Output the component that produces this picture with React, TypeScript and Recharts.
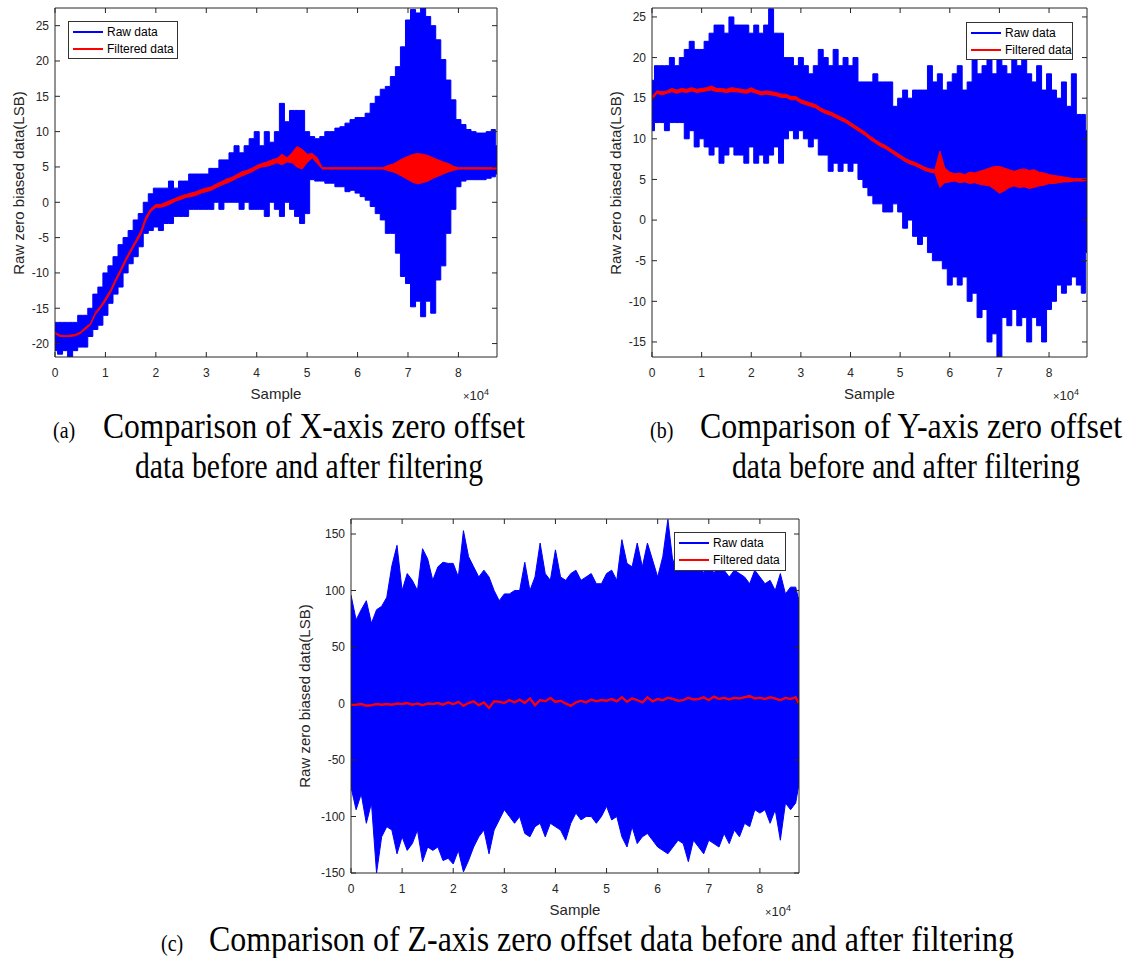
import React from 'react'
import { ComposedChart, Area, XAxis, YAxis } from 'recharts'

const SANS = '"Liberation Sans", Arial, Helvetica, sans-serif'
const SERIF = '"Liberation Serif", "Times New Roman", serif'
const AXIS = '#262626'
const BLUE = '#0000ff'
const RED = '#ff0000'

// sample positions: one reading every 1000 samples, last one at the end of the record
const SAMPLES = Array.from({ length: 88 }, (_, i) => i * 1000).concat([87650])
const X_TICKS = [0, 10000, 20000, 30000, 40000, 50000, 60000, 70000, 80000]

// (a) X axis
const xRawHigh = [
  -17, -17, -17, -17, -17, -16, -16, -15, -13, -12,
  -10, -9, -7.7, -6, -5, -4, -2.5, -1.6, 0, 1.2,
  2, 2, 2, 3, 2, 3, 3, 4, 4, 4,
  4, 4.8, 4.8, 6, 6, 7, 8, 7, 8, 9,
  10, 8, 10, 8.5, 10, 14, 11.4, 13, 13, 13,
  10, 9.3, 9, 9.3, 10, 10, 10.5, 10.7, 11.2, 11.7,
  12, 12, 12.6, 14, 15, 16, 16.4, 17.8, 19.2, 22,
  25.8, 27.3, 26.8, 27.5, 26.3, 25, 23, 20.2, 17.3, 14.5,
  11.7, 11, 10.3, 10, 9.8, 9.8, 10, 10.3, 8,
]
const xRawLow = [
  -21, -21.5, -21, -22, -21, -20.5, -20.5, -19, -18, -17.4,
  -16, -14.3, -13, -12, -10, -8.7, -7.7, -6.3, -4.4, -4,
  -3.5, -4, -3, -3, -2, -2, -2, -1, -1, -1,
  -1, -1, 0, -1, 0, 0, 0, -1, 0, -1,
  -1, -1, -2, 0, -1, -2, 0, -1, -2, -3,
  -1.6, 3.2, 3, 3, 2.7, 2.7, 2.2, 2.2, 1.5, 1.7,
  1.3, 0.8, 0.3, -0.6, -1.6, -2.5, -4.4, -4.4, -7.2, -10.5,
  -11.5, -14.8, -14, -16.2, -14, -15.7, -11, -9, -4.4, -1,
  2.2, 3, 3.2, 3.2, 3.2, 3.2, 3.4, 3.6, 4,
]
const xFiltLow = [
  -18.6, -19, -19, -19, -18.9, -18.6, -18, -17.4, -15.9, -15,
  -14, -12.8, -11.3, -9.9, -8.4, -7.1, -5.8, -4.6, -2.6, -1.3,
  -0.7, -0.7, -0.5, -0.2, 0.2, 0.4, 0.7, 0.8, 1, 1.3,
  1.5, 1.7, 2.1, 2.4, 2.7, 3, 3.4, 3.7, 4, 4.3,
  4.7, 5, 5.1, 5.3, 5.6, 5.3, 5.7, 5.6, 5, 4.7,
  5.6, 6.3, 5.5, 4.7, 4.7, 4.7, 4.7, 4.7, 4.7, 4.7,
  4.7, 4.7, 4.7, 4.7, 4.7, 4.7, 4.5, 4.3, 4, 3.6,
  3.2, 2.8, 2.6, 2.8, 3, 3.4, 3.7, 4, 4.3, 4.5,
  4.7, 4.7, 4.7, 4.7, 4.7, 4.7, 4.7, 4.7, 4.7,
]
const xFiltHigh = [
  -18.4, -18.8, -18.9, -18.8, -18.7, -18.4, -17.7, -17.2, -15.6, -14.7,
  -13.6, -12.4, -10.9, -9.5, -8, -6.7, -5.4, -4.1, -2.1, -0.9,
  -0.3, -0.3, 0, 0.3, 0.6, 0.9, 1.1, 1.3, 1.5, 1.8,
  2, 2.2, 2.6, 2.9, 3.3, 3.5, 3.9, 4.3, 4.5, 4.8,
  5.2, 5.5, 5.7, 6, 6.2, 6.8, 6.3, 7, 7.9, 7.5,
  6.8, 6.9, 6.3, 4.9, 4.9, 4.9, 4.9, 4.9, 4.9, 4.9,
  4.9, 4.9, 4.9, 4.9, 4.9, 4.9, 5.2, 5.4, 5.8, 6.2,
  6.5, 6.8, 6.9, 6.8, 6.6, 6.3, 6, 5.7, 5.5, 5.1,
  4.9, 4.9, 4.9, 4.9, 4.9, 4.9, 4.9, 4.9, 4.9,
]

// (b) Y axis
const yRawHigh = [
  17.2, 19, 19, 19, 20, 19, 20, 21, 22, 21,
  21, 22, 23, 24, 24, 23, 25, 24, 24, 24,
  23, 24, 23, 24, 26, 23, 23, 20, 20, 19,
  20, 19, 18, 19, 21, 20, 19, 21, 19, 20,
  19, 20, 17, 17, 17, 18, 17, 17, 17, 14,
  15, 16, 15, 16, 16, 16, 19, 17, 18, 16,
  17, 18, 19, 16, 17, 20, 18, 19, 20, 18,
  20, 19, 18, 20, 19, 20, 18, 17, 19, 16,
  18, 16, 15, 17, 14, 18, 13, 13, 11,
]
const yRawLow = [
  11, 12, 12, 11, 12, 12, 12, 10, 11, 9,
  10, 9, 8, 9, 7, 8, 9, 8, 8, 7,
  9, 7, 8, 7, 8, 9, 7, 10, 11, 10,
  11, 10, 9, 10, 8, 8, 6, 7, 6, 7,
  6, 7, 5, 4, 3, 2, 2, 1, 1, 2,
  1, -1, 0, -2, -3, -2, -4, -5, -5, -6,
  -8, -7, -8, -7, -10, -9, -12, -11, -15, -14,
  -17, -12, -13, -11, -13, -12, -15, -12, -13, -15,
  -11, -10, -8, -9, -8, -7, -8, -9, -4,
]
const yFiltLow = [
  14.8, 15.6, 15.4, 15.6, 15.8, 15.6, 15.8, 15.7, 15.9, 15.7,
  15.8, 15.9, 16, 15.8, 15.8, 15.7, 15.8, 15.8, 15.7, 15.6,
  15.8, 15.6, 15.4, 15.5, 15.4, 15.3, 15.1, 15.1, 14.8, 14.8,
  14.4, 14.2, 14, 13.8, 13.4, 13.1, 12.9, 12.6, 12.3, 12,
  11.6, 11.2, 10.8, 10.4, 9.9, 9.5, 9.1, 8.8, 8.4, 8,
  7.6, 7.2, 6.9, 6.7, 6.4, 6.1, 5.9, 5.8, 4, 4.6,
  4.7, 4.8, 4.6, 4.7, 4.5, 4.6, 4.4, 4.3, 4.2, 3.8,
  3.3, 3.6, 4, 4.2, 4, 4.1, 3.9, 4, 4.2, 4.3,
  4.5, 4.5, 4.6, 4.7, 4.7, 4.8, 4.8, 4.8, 4.9,
]
const yFiltHigh = [
  15.2, 15.9, 15.8, 15.9, 16.2, 16, 16.2, 16.1, 16.3, 16.1,
  16.2, 16.3, 16.5, 16.2, 16.2, 16.1, 16.3, 16.2, 16.1, 16,
  16.3, 16, 15.8, 15.9, 15.8, 15.7, 15.5, 15.5, 15.2, 15.2,
  14.8, 14.6, 14.4, 14.2, 13.8, 13.5, 13.3, 13, 12.7, 12.4,
  12, 11.6, 11.2, 10.8, 10.3, 9.9, 9.5, 9.2, 8.8, 8.4,
  8, 7.6, 7.3, 7.1, 6.8, 6.5, 6.3, 6.2, 8.5, 6.4,
  5.9, 5.7, 5.8, 5.6, 5.9, 5.8, 6, 6.2, 6.4, 6.6,
  6.6, 6.4, 6.2, 6, 6.2, 6.3, 6.1, 6.2, 5.9, 5.8,
  5.6, 5.5, 5.4, 5.3, 5.2, 5.1, 5.1, 5.1, 5.1,
]

// (c) Z axis
const zRawHigh = [
  96, 74, 83, 91, 71, 83, 86, 94, 122, 140,
  100, 115, 109, 100, 137, 128, 109, 121, 125, 124,
  124, 112, 153, 130, 121, 112, 118, 112, 100, 91,
  97, 97, 100, 100, 125, 100, 112, 142, 115, 109,
  136, 112, 109, 115, 118, 109, 112, 115, 106, 106,
  115, 118, 109, 145, 124, 121, 142, 121, 142, 127,
  112, 130, 163, 124, 139, 127, 118, 121, 130, 115,
  127, 115, 124, 118, 112, 118, 115, 112, 106, 118,
  112, 106, 109, 100, 115, 97, 103, 103, 91,
]
const zRawLow = [
  -74, -94, -80, -106, -88, -150, -118, -109, -112, -133,
  -118, -130, -124, -112, -140, -127, -130, -127, -139, -137,
  -142, -130, -149, -139, -127, -118, -112, -133, -112, -103,
  -94, -100, -106, -100, -115, -118, -109, -106, -118, -106,
  -109, -112, -121, -106, -97, -103, -100, -100, -106, -100,
  -91, -103, -100, -118, -127, -109, -124, -118, -115, -121,
  -127, -130, -133, -127, -121, -124, -140, -121, -127, -133,
  -121, -124, -127, -115, -124, -112, -118, -106, -109, -94,
  -97, -94, -106, -94, -121, -88, -94, -88, -71,
]
const zFiltered = [
  -1, -1, -0.5, -2, -1.5, -0.5, -1, -0.5, -1, 0,
  -0.5, 0.5, -1, 0, -1.5, 0, -0.5, 0.5, -1, 1,
  -0.5, 1.5, -2, 0.5, 2, -1.5, 1, -4, 2, 1.5,
  0.5, 3, 1, 3.5, 0.5, 4.5, -1.5, 3, 2, 5,
  1.5, 2.5, 0, -2, 1, 2.5, 1, 3.5, 2, 3,
  2.5, 4, 2, 5.5, 1.5, 4.5, 3, 1, 5.5, 2,
  4, 3, 5, 4, 2.5, 3, 5, 3.5, 4, 5.5,
  3, 6, 4, 5, 3.5, 5, 4.5, 5.5, 6.5, 4.5,
  5, 4, 5.5, 4.5, 3, 5, 4, 5.5, 0,
]

const NoTick = () => <g />

function MatlabLegend({ x, y, w, h }: { x: number; y: number; w: number; h: number }) {
  const row = (color: string, label: string, top: number) => (
    <div style={{ position: 'absolute', left: 4, top, display: 'flex', alignItems: 'center' }}>
      <div style={{ width: 30, height: 2, background: color }} />
      <span style={{ marginLeft: 4, fontSize: 12, lineHeight: '14px', color: '#000' }}>{label}</span>
    </div>
  )
  return (
    <div
      style={{
        position: 'absolute', left: x, top: y, width: w, height: h, boxSizing: 'border-box',
        border: '1px solid #333', background: '#fff', fontFamily: SANS,
      }}
    >
      {row(BLUE, 'Raw data', 3)}
      {row(RED, 'Filtered data', 20)}
    </div>
  )
}

interface PanelProps {
  left: number
  top: number
  plotW: number
  plotH: number
  yDomain: [number, number]
  yTicks: number[]
  rawLow: number[]
  rawHigh: number[]
  filtLow: number[]
  filtHigh: number[]
  rawCurve: 'linear' | 'step'
  filtWidth: number
  legend: { x: number; y: number; w: number; h: number }
  yLabelDx: number
}

function Panel(p: PanelProps) {
  const data = SAMPLES.map((s, i) => ({
    sample: s,
    raw: [p.rawLow[i], p.rawHigh[i]],
    filtered: [p.filtLow[i], p.filtHigh[i]],
  }))
  const W = p.plotW + 70
  const H = p.plotH + 60
  const tickStyle = { fill: AXIS, fontSize: 12, fontFamily: SANS }
  return (
    <div style={{ position: 'absolute', left: p.left - 60, top: p.top - 10, width: W, height: H }}>
      <ComposedChart width={W} height={H} data={data} margin={{ top: 9, right: 9, bottom: 0, left: 0 }}>
        <XAxis xAxisId="b" dataKey="sample" type="number" domain={[0, 87650]} ticks={X_TICKS}
          interval={0} allowDataOverflow height={50} tickSize={-5} tickMargin={16} stroke={AXIS}
          tick={tickStyle} tickFormatter={(v: number) => String(v / 10000)} />
        <XAxis xAxisId="t" orientation="top" dataKey="sample" type="number" domain={[0, 87650]}
          ticks={X_TICKS} interval={0} allowDataOverflow height={1} tickSize={-5} stroke={AXIS} tick={NoTick} />
        <YAxis yAxisId="l" type="number" domain={p.yDomain} ticks={p.yTicks} interval={0} allowDataOverflow
          width={60} tickSize={-5} tickMargin={11} stroke={AXIS} tick={tickStyle} />
        <YAxis yAxisId="r" orientation="right" type="number" domain={p.yDomain} ticks={p.yTicks} interval={0}
          allowDataOverflow width={1} tickSize={-5} stroke={AXIS} tick={NoTick} />
        <Area xAxisId="b" yAxisId="l" dataKey="raw" type={p.rawCurve} stroke={BLUE} strokeWidth={1}
          fill={BLUE} fillOpacity={1} dot={false} activeDot={false} isAnimationActive={false} />
        <Area xAxisId="b" yAxisId="l" dataKey="filtered" type="linear" stroke={RED} strokeWidth={p.filtWidth}
          fill={RED} fillOpacity={1} dot={false} activeDot={false} isAnimationActive={false} />
        {/* invisible copy so the top and right frame axes are bound to a series */}
        <Area xAxisId="t" yAxisId="r" dataKey="filtered" stroke="none" fill="none"
          dot={false} activeDot={false} isAnimationActive={false} legendType="none" />
      </ComposedChart>

      <MatlabLegend x={60 + p.legend.x} y={10 + p.legend.y} w={p.legend.w} h={p.legend.h} />

      <div style={{
        position: 'absolute', left: 60 + p.yLabelDx, top: 10 + p.plotH / 2, whiteSpace: 'nowrap',
        transform: 'translate(-50%, -50%) rotate(-90deg)', fontFamily: SANS, fontSize: 15, color: AXIS,
      }}>
        Raw zero biased data(LSB)
      </div>
      <div style={{
        position: 'absolute', left: 60 + p.plotW / 2, top: 10 + p.plotH + 36, whiteSpace: 'nowrap',
        transform: 'translate(-50%, -50%)', fontFamily: SANS, fontSize: 15, color: AXIS,
      }}>
        Sample
      </div>
      <div style={{
        position: 'absolute', left: 60 + p.plotW - 34, top: 10 + p.plotH + 30, whiteSpace: 'nowrap',
        fontFamily: SANS, fontSize: 13, color: AXIS,
      }}>
        <span style={{ fontSize: 11 }}>×</span>10<sup style={{ fontSize: 9 }}>4</sup>
      </div>
    </div>
  )
}

function Caption({ x, y, text, size = 30.5, width }: { x: number; y: number; text: string; size?: number; width?: number }) {
  return (
    <text transform={`translate(${x} ${y}) scale(1 1.17)`} fontFamily={SERIF} fontSize={size} fill="#000"
      textLength={width} lengthAdjust={width ? 'spacingAndGlyphs' : undefined}>
      {text}
    </text>
  )
}

export default function App() {
  return (
    <div style={{ position: 'absolute', left: 0, top: 0, width: 1131, height: 958, background: '#fff' }}>
      <Panel left={55} top={8} plotW={442} plotH={349} yDomain={[-21.9, 27.5]}
        yTicks={[-20, -15, -10, -5, 0, 5, 10, 15, 20, 25]}
        rawLow={xRawLow} rawHigh={xRawHigh} filtLow={xFiltLow} filtHigh={xFiltHigh} rawCurve="step" filtWidth={1}
        legend={{ x: 13, y: 13, w: 110, h: 38 }} yLabelDx={-37} />
      <Panel left={652} top={8} plotW={435} plotH={349} yDomain={[-16.85, 26.1]}
        yTicks={[-15, -10, -5, 0, 5, 10, 15, 20, 25]}
        rawLow={yRawLow} rawHigh={yRawHigh} filtLow={yFiltLow} filtHigh={yFiltHigh} rawCurve="step" filtWidth={1}
        legend={{ x: 314, y: 14, w: 107, h: 38 }} yLabelDx={-37} />
      <Panel left={351} top={519} plotW={448} plotH={354} yDomain={[-150, 163.3]}
        yTicks={[-150, -100, -50, 0, 50, 100, 150]}
        rawLow={zRawLow} rawHigh={zRawHigh} filtLow={zFiltered} filtHigh={zFiltered} rawCurve="linear" filtWidth={2}
        legend={{ x: 323, y: 13, w: 112, h: 39 }} yLabelDx={-47} />

      <svg width={1131} height={958} style={{ position: 'absolute', left: 0, top: 0, pointerEvents: 'none' }}>
        <Caption x={53} y={438} text="(a)" size={20} />
        <Caption x={103} y={438} text="Comparison of X-axis zero offset" width={422} />
        <Caption x={135} y={478} text="data before and after filtering" width={348} />
        <Caption x={650} y={438} text="(b)" size={20} />
        <Caption x={700} y={438} text="Comparison of Y-axis zero offset" width={422} />
        <Caption x={732} y={478} text="data before and after filtering" width={348} />
        <Caption x={161} y={951} text="(c)" size={20} />
        <Caption x={209} y={951} text="Comparison of Z-axis zero offset data before and after filtering" width={805} />
      </svg>
    </div>
  )
}
